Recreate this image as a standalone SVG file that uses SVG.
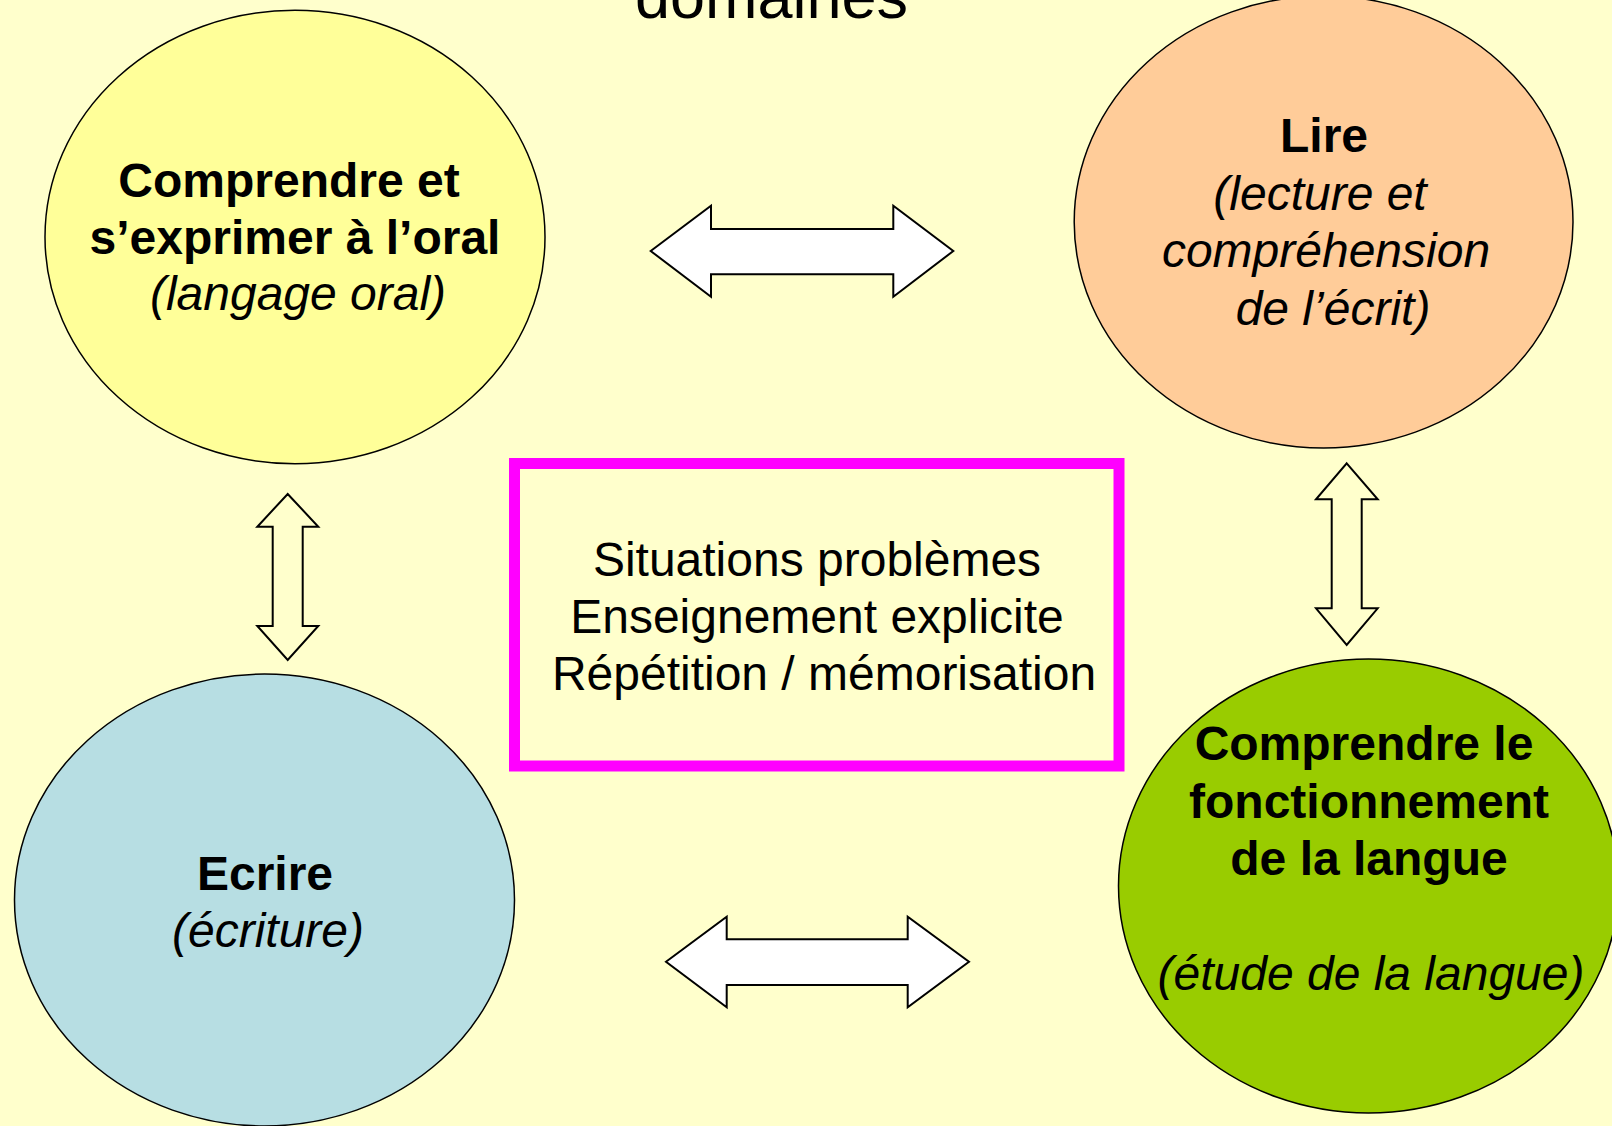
<svg xmlns="http://www.w3.org/2000/svg" width="1612" height="1126" viewBox="0 0 1612 1126">
<style>
text{font-family:"Liberation Sans",Arial,sans-serif;fill:#000;text-anchor:middle}
.t{font-size:48px}
.b{font-weight:bold}
.i{font-style:italic}
.node{stroke:#000;stroke-width:1.5}
.arr{stroke:#000;stroke-width:2;stroke-linejoin:miter}
</style>
<rect width="1612" height="1126" fill="#FFFFCC"/>
<text x="771.5" y="18" style="font-size:63px">domaines</text>
<g id="connectors">
<polygon class="arr" fill="#FFFFFF" points="650.7,251 711,205.7 711,229 893.3,229 893.3,205.7 953.3,251 893.3,296.7 893.3,274.3 711,274.3 711,296.7"/>
<polygon class="arr" fill="#FFFFFF" points="666,961.7 726.7,916.7 726.7,939.3 907.7,939.3 907.7,916.7 969,961.7 907.7,1007.3 907.7,985 726.7,985 726.7,1007.3"/>
<polygon class="arr" fill="#FFFFCC" points="287.7,494 318.3,526.7 302.7,526.7 302.7,626 318.3,626 287.7,660 257.3,626 272.7,626 272.7,526.7 257.3,526.7"/>
<polygon class="arr" fill="#FFFFCC" points="1346.7,463.3 1377.7,499.3 1361.7,499.3 1361.7,608.3 1377.7,608.3 1346.7,645 1316,608.3 1331.7,608.3 1331.7,499.3 1316,499.3"/>
</g>
<g id="node-oral">
<ellipse class="node" cx="295" cy="237" rx="250" ry="226.7" fill="#FFFF99"/>
<text class="t b" x="289" y="197">Comprendre et</text>
<text class="t b" x="295" y="254">s’exprimer à l’oral</text>
<text class="t i" x="298" y="310">(langage oral)</text>
</g>
<g id="node-lire">
<ellipse class="node" cx="1323.6" cy="222" rx="249.4" ry="226" fill="#FFCC99"/>
<text class="t b" x="1324" y="152">Lire</text>
<text class="t i" x="1320" y="210">(lecture et</text>
<text class="t i" x="1326" y="267">compréhension</text>
<text class="t i" x="1333" y="325">de l’écrit)</text>
</g>
<g id="node-center">
<rect x="514.5" y="463.5" width="604.5" height="302.5" fill="none" stroke="#FF00FF" stroke-width="11"/>
<text class="t" x="817" y="576">Situations problèmes</text>
<text class="t" x="817" y="633">Enseignement explicite</text>
<text class="t" x="824" y="690">Répétition / mémorisation</text>
</g>
<g id="node-ecrire">
<ellipse class="node" cx="264.5" cy="900" rx="250" ry="226" fill="#B7DEE3"/>
<text class="t b" x="265" y="890">Ecrire</text>
<text class="t i" x="268" y="947">(écriture)</text>
</g>
<g id="node-langue">
<ellipse class="node" cx="1368.5" cy="886" rx="250" ry="227" fill="#99CC00"/>
<text class="t b" x="1364" y="760">Comprendre le</text>
<text class="t b" x="1369" y="818">fonctionnement</text>
<text class="t b" x="1369" y="875">de la langue</text>
<text class="t i" x="1371" y="990">(étude de la langue)</text>
</g>
</svg>
